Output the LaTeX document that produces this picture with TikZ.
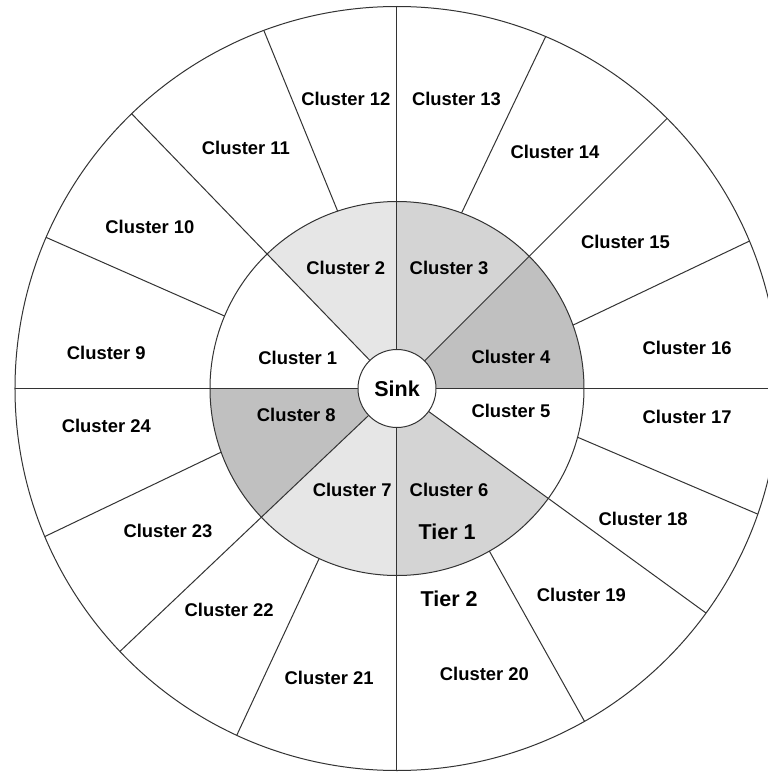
\documentclass[tikz,border=0pt]{standalone}
\usepackage{fontspec}
\setmainfont{Liberation Sans}
\usepackage{xcolor}
\usepackage{tikz}
\definecolor{TierLight}{HTML}{E6E6E6}
\definecolor{TierMid}{HTML}{D4D4D4}
\definecolor{TierDark}{HTML}{C0C0C0}
\definecolor{RingLine}{HTML}{333333}

\begin{document}
\begin{tikzpicture}[
  x=1pt, y=1pt,
  ring/.style={draw=RingLine, line width=1pt},
  clabel/.style={font=\fontsize{18.4}{22}\selectfont\bfseries, inner sep=0pt},
  biglabel/.style={font=\fontsize{21.5}{26}\selectfont\bfseries, inner sep=0pt}
]
  \useasboundingbox (-397,-383.5) rectangle (371,388.5);
  \clip (-397,-383.5) rectangle (371,388.5);
  \fill[white] (-397,-383.5) rectangle (371,388.5);

  % tier 1 shading
  \foreach \a/\b/\c in {90/134/TierLight, 45/90/TierMid, 0/45/TierDark,
                        -90/-36/TierMid, 223.5/270/TierLight, 180/223.5/TierDark}
    \fill[\c] (0,0) -- (\a:187) arc[start angle=\a, end angle=\b, radius=187] -- cycle;

  % rings
  \draw[ring] (0,0) circle[radius=382];
  \draw[ring] (0,0) circle[radius=187];

  % borders through both tiers
  \foreach \a in {0,45,90,134,180,223.5,270,-36}
    \draw[ring] (\a:39) -- (\a:382);
  % borders of tier 2 only
  \foreach \p/\q in {108.5/110.4, 69.8/67.1, 19.8/22.7, -15.1/-19.2,
                     -60.4/-60.6, 245.4/245.2, 199.9/202.8, 157.2/156.7}
    \draw[ring] (\p:187) -- (\q:382);

  \node[ring, circle, fill=white, minimum size=78pt, biglabel] (sink) at (0,0) {Sink};

  % cluster labels
  \foreach \n/\x/\y in {1/-99.2/30.9, 2/-51.2/120.1, 3/52.1/120.1, 4/113.9/31.9,
                        5/113.9/-22.9, 6/52.1/-101.3, 7/-44.8/-101.3, 8/-100.7/-26.4,
                        9/-290.7/35.8, 10/-247.1/161.2, 11/-151.1/240.1, 12/-51.2/289.1,
                        13/59.5/289.1, 14/158/236.2, 15/228.5/146.5, 16/290.2/40.7,
                        17/290.2/-28.3, 18/246.1/-130.7, 19/184.4/-206.6, 20/87.4/-285.9,
                        21/-67.9/-289.9, 22/-167.8/-221.8, 23/-229/-142.9, 24/-290.7/-37.6}
    \node[clabel] (c\n) at (\x,\y) {Cluster \n};

  \node[biglabel] (tier1) at (50.2,-142.9) {Tier 1};
  \node[biglabel] (tier2) at (52.1,-210) {Tier 2};
\end{tikzpicture}
\end{document}
